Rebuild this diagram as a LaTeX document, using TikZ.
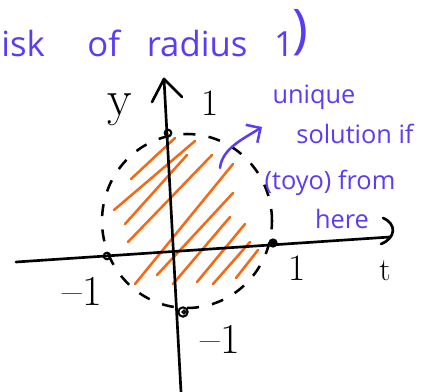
\documentclass[tikz,border=0pt]{standalone}
\usepackage{fontspec}
\newfontfamily\hand{Open Sans}
\usetikzlibrary{arrows.meta}
\definecolor{ink}{RGB}{90,60,245}
\definecolor{hatchc}{RGB}{245,105,20}
\begin{document}
\begin{tikzpicture}[x=0.75pt,y=-0.75pt,
  axis/.style={line width=2pt,line cap=round,line join=round},
  hatchline/.style={hatchc,line width=1.9pt,line cap=round},
  dashcirc/.style={line width=1.9pt,dash pattern=on 9pt off 10pt},
  bluetext/.style={ink,font=\hand\fontsize{19}{22}\selectfont,inner sep=0pt,anchor=base},
  lab/.style={inner sep=0pt,anchor=base},
  ptmark/.style={circle,draw,line width=1.5pt,inner sep=0pt,minimum size=5pt}]
\useasboundingbox (0,0) rectangle (435,392);
% dashed unit circle
\draw[dashcirc] (187,221) ellipse [x radius=63.75pt, y radius=65.25pt];
% hatching
\draw[hatchline] (131,179) -- (175,138);
\draw[hatchline] (114,210) -- (195,141);
\draw[hatchline] (125,224) -- (187,155);
\draw[hatchline] (128,242) -- (212,155);
\draw[hatchline] (135,284) -- (233,164);
\draw[hatchline] (157,275) -- (233,193);
\draw[hatchline] (173,284) -- (230,217);
\draw[hatchline] (197,282) -- (245,224);
\draw[hatchline] (213,284) -- (250,242);
\draw[hatchline] (236,278) -- (258,250);
% axes
\coordinate (yb) at (181,392);
\coordinate (yt) at (164,79);
\coordinate (yw1) at (152,102);
\coordinate (yw2) at (182,97);
\draw[axis] (yb) -- (yt);
\draw[axis] (yw1) -- (yt) -- (yw2);
\coordinate (tl) at (16,262);
\coordinate (tr) at (390,237);
\coordinate (th1) at (383,218);
\coordinate (th2) at (381,244);
\draw[axis] (tl) -- (tr);
\draw[axis] (th1) .. controls (397,224) and (396,238) .. (th2);
% points
\node[ptmark] (pL) at (107,256) {};
\node[ptmark] (pT) at (168,133) {};
\node[ptmark,minimum size=7pt] (pB) at (183,312) {};
\node[ptmark,minimum size=2.5pt,line width=1.2pt] (pBi) at (184,312) {};
\node[circle,fill,inner sep=0pt,minimum size=7pt] (pR) at (273,243) {};
% black labels
\node[lab,font=\fontsize{38}{40}\selectfont] (ylab) at (120,116) {y};
\node[lab,font=\fontsize{28}{30}\selectfont] (one1) at (210,116) {1};
\node[lab,font=\fontsize{28}{30}\selectfont] (one2) at (297,280) {1};
\node[lab,font=\fontsize{24}{26}\selectfont] (tlab) at (385,280) {t};
\node[lab,font=\fontsize{32}{34}\selectfont] (m1a) at (82,305) {\textendash1};
\node[lab,font=\fontsize{32}{34}\selectfont] (m1b) at (220,353) {\textendash1};
% blue text
\node[ink,font=\hand\fontsize{26}{28}\selectfont,inner sep=0pt,anchor=base west] (top) at (1,57) {isk\hspace{32pt}of\hspace{20pt}radius\hspace{20pt}1};
\node[ink,font=\hand\fontsize{40}{42}\selectfont,inner sep=0pt] (par) at (300,33) {)};
\node[bluetext] (u1) at (314,104) {unique};
\node[bluetext] (u2) at (355,143) {solution if};
\node[bluetext] (u3) at (330,190) {(toyo) from};
\node[bluetext] (u4) at (342,228) {here};
\coordinate (arT) at (220,168);
\coordinate (arH) at (262,127);
\draw[ink,line width=1.9pt,line cap=round,-{Straight Barb[length=8pt,width=16pt,line width=1.9pt]}] (arT) .. controls (222,148) and (245,138) .. (arH);
\end{tikzpicture}
\end{document}
